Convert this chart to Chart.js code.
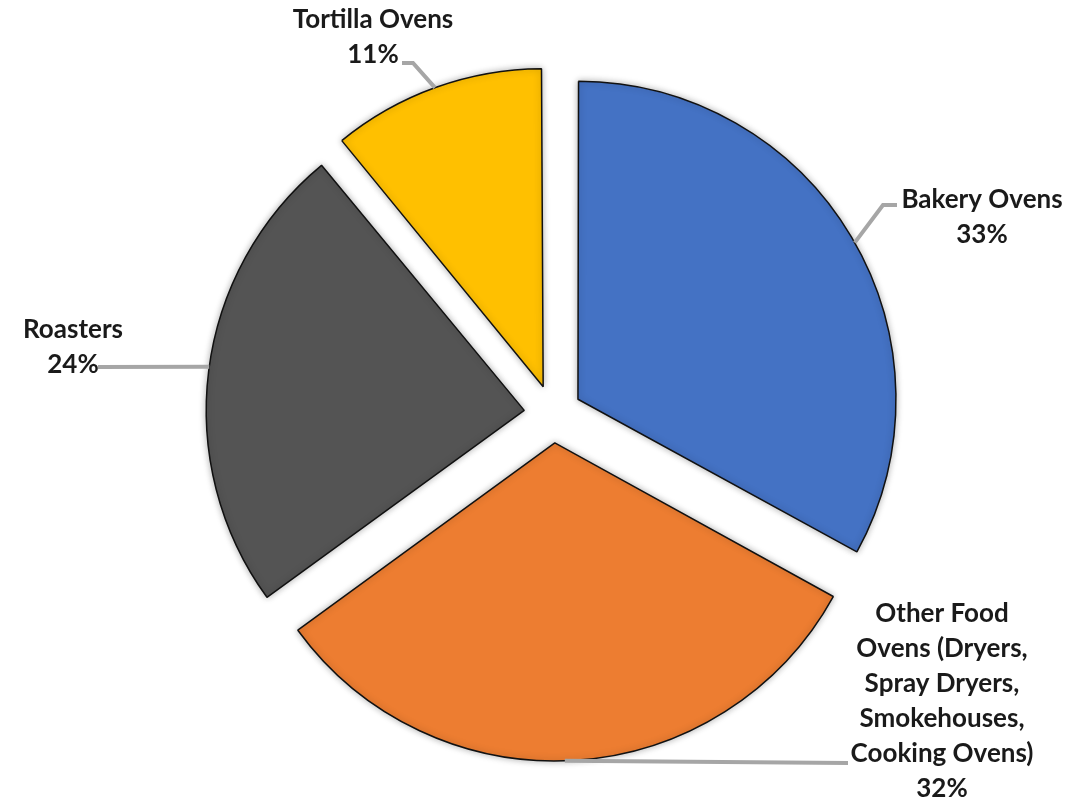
<!DOCTYPE html>
<html>
<head>
<meta charset="utf-8">
<script src="https://cdn.jsdelivr.net/npm/chart.js@4"></script>
<style>
  body { margin: 0; background: #fff; }
</style>
</head>
<body>
<canvas id="ovenPie" width="1089" height="800"></canvas>
<script>
const categories = ['Bakery Ovens', 'Other Food Ovens (Dryers, Spray Dryers, Smokehouses, Cooking Ovens)', 'Roasters', 'Tortilla Ovens'];
const shares = [33, 32, 24, 11];
const sliceColors = ['#4472C4', '#ED7D31', '#545454', '#FFC000'];
const labelLines = [
    ['Bakery Ovens'],
    ['Other Food', 'Ovens (Dryers,', 'Spray Dryers,', 'Smokehouses,', 'Cooking Ovens)'],
    ['Roasters'],
    ['Tortilla Ovens']
];

// where each label block sits and how its leader line runs to the slice
const labelPlacement = [
    { x: 982, y: 200, anchorDeg: -29.5, leader: [[897, 205], [883, 205]] },
    { x: 942, y: 614, anchorDeg: 88.2, leader: [[848, 763]] },
    { x: 73, y: 330, anchorDeg: -172.1, leader: [[98, 367]] },
    { x: 373, y: 20, anchorDeg: -109.9, leader: [[402, 63], [413, 63]] }
];

const explode = 29;
const pieRadius = 318;
const lineGap = 35;

// chart.js grows exploded arcs a little; pull them back so every slice has one radius
const evenRadius = {
    id: 'evenRadius',
    afterDatasetsUpdate(chart) {
        chart.getDatasetMeta(0).data.forEach(arc => {
            const circ = arc.endAngle - arc.startAngle;
            const grow = explode * (1 - Math.sin(Math.min(Math.PI, circ)));
            arc.outerRadius = pieRadius - grow;
        });
    }
};

const softShadow = {
    id: 'softShadow',
    beforeDatasetsDraw(chart) {
        const ctx = chart.ctx;
        ctx.save();
        ctx.shadowColor = 'rgba(0,0,0,0.3)';
        ctx.shadowBlur = 7;
    },
    afterDatasetsDraw(chart) {
        chart.ctx.restore();
    }
};

const sliceLabels = {
    id: 'sliceLabels',
    afterDraw(chart) {
        const ctx = chart.ctx;
        const arcs = chart.getDatasetMeta(0).data;
        ctx.save();
        arcs.forEach((arc, i) => {
            const p = labelPlacement[i];
            const half = (arc.startAngle + arc.endAngle) / 2;
            const cx = arc.x + Math.cos(half) * explode;
            const cy = arc.y + Math.sin(half) * explode;
            const a = p.anchorDeg * Math.PI / 180;
            const ax = cx + Math.cos(a) * pieRadius;
            const ay = cy + Math.sin(a) * pieRadius;

            ctx.strokeStyle = '#A6A6A6';
            ctx.lineWidth = 4;
            ctx.lineJoin = 'miter';
            ctx.beginPath();
            ctx.moveTo(p.leader[0][0], p.leader[0][1]);
            p.leader.slice(1).forEach(pt => ctx.lineTo(pt[0], pt[1]));
            ctx.lineTo(ax, ay);
            ctx.stroke();

            ctx.fillStyle = '#1a1a1a';
            ctx.font = 'bold 26px Lato';
            ctx.textAlign = 'center';
            ctx.textBaseline = 'middle';
            const lines = labelLines[i].concat([shares[i] + '%']);
            lines.forEach((t, k) => ctx.fillText(t, p.x, p.y + k * lineGap));
        });
        ctx.restore();
    }
};

new Chart(document.getElementById('ovenPie'), {
    type: 'pie',
    data: {
        labels: categories,
        datasets: [{
            data: shares,
            backgroundColor: sliceColors,
            borderColor: '#111',
            borderWidth: 1.5,
            offset: explode * 4
        }]
    },
    options: {
        responsive: false,
        animation: false,
        devicePixelRatio: 1,
        radius: pieRadius,
        layout: { padding: { left: 17, right: 0, top: 28, bottom: 0 } },
        plugins: {
            legend: { display: false },
            tooltip: { enabled: false }
        }
    },
    plugins: [evenRadius, softShadow, sliceLabels]
});
</script>
</body>
</html>
